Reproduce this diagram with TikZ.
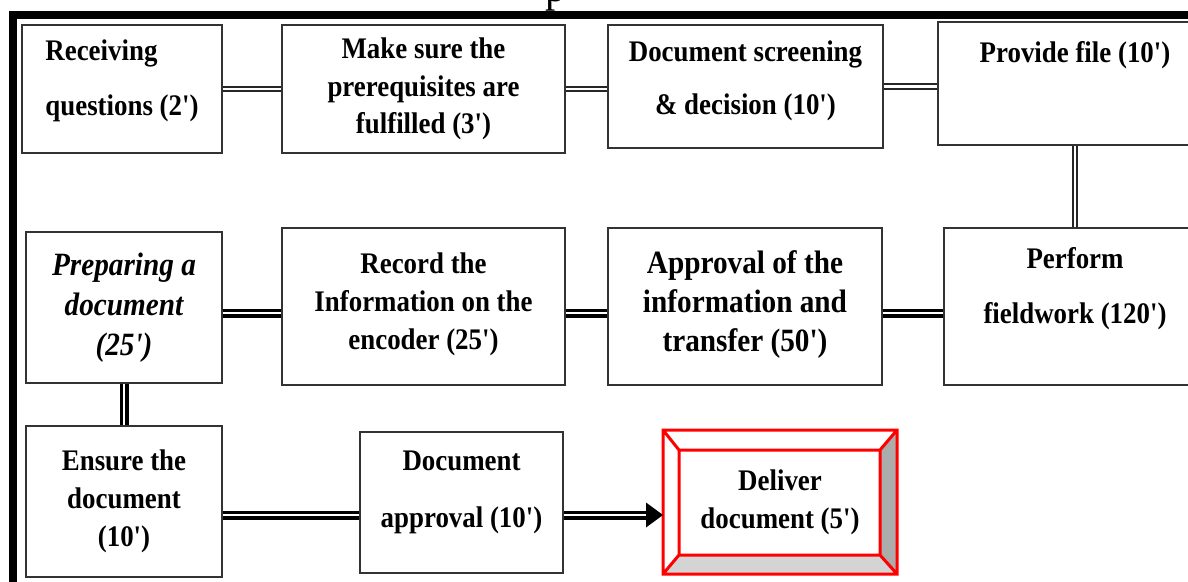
\documentclass[tikz,border=0pt]{standalone}
\usepackage{fontspec}
\newfontfamily\boxfont{Liberation Serif}[FakeStretch=0.9]
\begin{document}
\begin{tikzpicture}[stepbox/.style={draw=black!80,line width=0.04cm,align=center,inner sep=0pt,
    font=\boxfont\bfseries\fontsize{17}{21.5}\selectfont},
  link/.style={draw=black!85,line width=0.04cm,double=white,double distance=0.05cm},
  heavy/.style={draw=black,line width=0.07cm,double=white,double distance=0.04cm}]
\useasboundingbox (0,0) rectangle (23.76,11.62);
\fill[white] (0,0) rectangle (23.76,11.62);
% heavy frame, only top and left side fall on the page
\draw[line width=0.16cm] (0.26,-1) rectangle (25,11.33);
\node[anchor=base west,inner sep=0pt,font=\boxfont\fontsize{26}{30}\selectfont] (capfrag) at (10.9,11.6) {p};
% first row
\node[stepbox,minimum width=4cm,minimum height=2.56cm,align=left] (recv) at (2.44,9.84) {Receiving\\[0.34cm]questions (2')\\[-0.3cm]\mbox{}};
\node[stepbox,minimum width=5.66cm,minimum height=2.56cm] (prereq) at (8.47,9.84) {Make sure the\\prerequisites are\\fulfilled (3')};
\node[stepbox,minimum width=5.5cm,minimum height=2.46cm] (screen) at (14.91,9.89) {Document screening\\[0.32cm]\& decision (10')\\[-0.4cm]\mbox{}};
\node[stepbox,minimum width=5.48cm,minimum height=2.46cm] (provide) at (21.5,9.95) {Provide file (10')\\[0.49cm]\mbox{}};
% second row
\node[stepbox,minimum width=3.92cm,minimum height=3.02cm,font=\boxfont\bfseries\itshape\fontsize{18.5}{22.7}\selectfont] (prep) at (2.48,5.47) {Preparing a\\document\\(25')};
\node[stepbox,minimum width=5.66cm,minimum height=3.14cm] (record) at (8.47,5.49) {Record the\\Information on the\\encoder (25')\\[-0.55cm]\mbox{}};
\node[stepbox,minimum width=5.48cm,minimum height=3.14cm,font=\boxfont\bfseries\fontsize{18.5}{22.1}\selectfont] (approve) at (14.9,5.49) {Approval of the\\information and\\transfer (50')\\[-0.55cm]\mbox{}};
\node[stepbox,minimum width=5.24cm,minimum height=3.14cm] (field) at (21.5,5.49) {Perform\\[0.34cm]fieldwork (120')\\[0.07cm]\mbox{}};
% third row
\node[stepbox,minimum width=3.92cm,minimum height=3.02cm] (ensure) at (2.48,1.59) {Ensure the\\document\\(10')};
\node[stepbox,minimum width=4.06cm,minimum height=2.82cm] (docappr) at (9.23,1.57) {Document\\[0.38cm]approval (10')\\[-0.21cm]\mbox{}};
\node[stepbox,draw=none,outer sep=0pt,minimum width=4.68cm,minimum height=2.88cm] (deliver) at (15.6,1.58) {Deliver\\document (5')};

% bevelled frame of the last step
\fill[gray!65] (deliver.north east) -- (deliver.south east) -- ([shift={(-0.34,0.38)}]deliver.south east) -- ([shift={(-0.34,-0.4)}]deliver.north east) -- cycle;
\fill[gray!34] (deliver.south west) -- (deliver.south east) -- ([shift={(-0.34,0.38)}]deliver.south east) -- ([shift={(0.32,0.38)}]deliver.south west) -- cycle;
\draw[red,line width=0.06cm] (deliver.south west) rectangle (deliver.north east)
  ([shift={(0.32,0.38)}]deliver.south west) rectangle ([shift={(-0.34,-0.4)}]deliver.north east)
  (deliver.south west) -- ++(0.32,0.38) (deliver.north west) -- ++(0.32,-0.4)
  (deliver.north east) -- ++(-0.34,-0.4) (deliver.south east) -- ++(-0.34,0.38);

% links
\draw[link] (recv) -- (prereq);
\draw[link] (prereq.east) -- (prereq.east -| screen.west);
\draw[link] (screen.east) -- (screen.east -| provide.west);
\draw[link] (provide) -- (field);
\draw[heavy] (prep.east |- 0,5.36) -- (record.west |- 0,5.36);
\draw[heavy] (record.east |- 0,5.36) -- (approve.west |- 0,5.36);
\draw[heavy] (approve.east |- 0,5.36) -- (field.west |- 0,5.36);
\draw[heavy] (prep) -- (ensure);
\draw[heavy] (ensure.east |- 0,1.32) -- (docappr.west |- 0,1.32);
\coordinate (tip) at (deliver.west |- 0,1.32);
\draw[heavy] (docappr.east |- 0,1.32) -- ([xshift=-0.3cm]tip);
\fill ([shift={(-0.34,0.25)}]tip) -- (tip) -- ([shift={(-0.34,-0.25)}]tip) -- cycle;
\end{tikzpicture}
\end{document}
